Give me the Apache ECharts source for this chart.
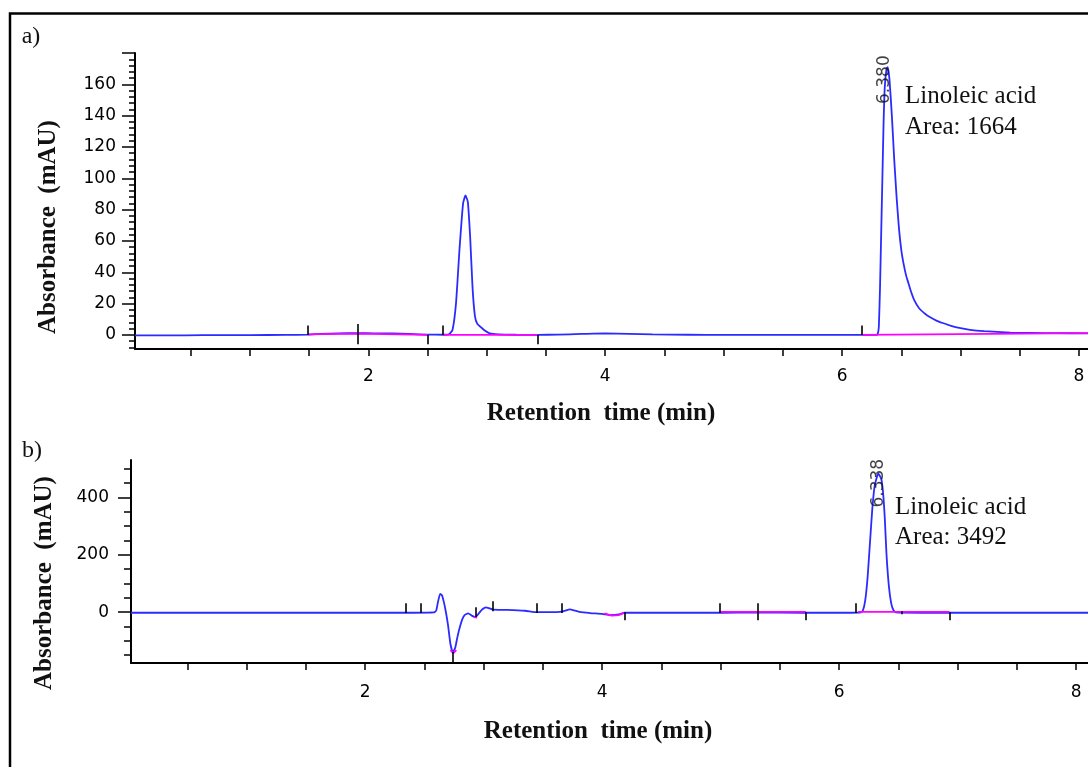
<!DOCTYPE html>
<html>
<head>
<meta charset="utf-8">
<script src="https://cdn.jsdelivr.net/npm/echarts@6/dist/echarts.min.js"></script>
<style>html,body{margin:0;padding:0;background:#fff}#c{width:1088px;height:767px}</style>
</head>
<body>
<div id="c"></div>
<script>
// ---------- Panel a) data : [retention time (min), absorbance (mAU)] ----------
const traceA = [[0.03,-0.3],[0.3,-0.3],[0.6,-0.2],[1.0,-0.1],[1.3,0],[1.49,0.2],[1.6,0.7],[1.75,1.0],[1.9,1.1],[2.05,1.0],[2.2,0.9],[2.35,0.6],[2.5,0.2],[2.63,0.1],[2.68,0.4],[2.71,3],[2.74,20],[2.77,55],[2.80,84],[2.82,89],[2.84,85],[2.86,62],[2.88,30],[2.90,12],[2.92,7],[2.95,5],[2.98,3],[3.02,1.2],[3.10,0.4],[3.25,0.1],[3.43,0],[3.6,0.2],[3.8,0.6],[4.0,1.0],[4.2,0.7],[4.4,0.3],[4.7,0.1],[5.0,0],[5.5,0],[6.0,0],[6.17,0],[6.29,0],[6.30,0.5],[6.31,5],[6.32,30],[6.33,65],[6.34,100],[6.35,135],[6.36,158],[6.375,170],[6.385,171],[6.40,163],[6.42,140],[6.44,112],[6.46,88],[6.48,68],[6.50,54],[6.52,45],[6.54,38],[6.56,33],[6.58,28],[6.61,22],[6.65,17],[6.70,13.5],[6.74,11.4],[6.80,9],[6.85,7.6],[6.92,5.8],[7.0,4.3],[7.08,3.2],[7.2,2.4],[7.42,1.5],[7.6,1.3],[7.8,1.1],[8.08,1.0]];
const baselineA = [
  [[1.49,0.3],[1.91,0.8],[2.50,0]],
  [[2.63,0],[3.43,0]],
  [[6.17,0],[8.08,1.2]]
];
// integration event marks: [time, from, to]
const eventsA = [[1.49,0,6],[1.91,-6,7],[2.50,0,-6],[2.63,0,6],[3.43,0,-6],[6.17,0,6]];
const peakA = {time:6.362, y:163, label:'6.380', name:'Linoleic acid', area:'Area: 1664'};

// ---------- Panel b) data ----------
const traceB = [[0.025,-2],[1.0,-2],[2.0,-2],[2.4,-2],[2.58,-1],[2.60,5],[2.615,35],[2.633,64],[2.65,58],[2.665,35],[2.68,5],[2.70,-45],[2.72,-110],[2.74,-139],[2.76,-125],[2.78,-85],[2.80,-52],[2.82,-25],[2.84,-10],[2.87,-4],[2.90,-12],[2.93,-17],[2.96,-4],[2.99,10],[3.02,17],[3.05,13],[3.08,9],[3.2,8],[3.35,5],[3.45,0],[3.55,0],[3.66,2],[3.73,10],[3.81,1],[3.9,-3],[4.0,-6],[4.07,-10],[4.14,-8],[4.19,-2],[4.5,-2],[5.0,-2],[5.3,-1],[5.7,-2],[6.1,-2],[6.18,-1],[6.20,5],[6.22,40],[6.24,120],[6.26,240],[6.28,360],[6.30,440],[6.33,483],[6.355,465],[6.37,420],[6.385,330],[6.40,200],[6.42,90],[6.44,30],[6.46,6],[6.48,-1],[6.7,-2],[7.0,-2],[8.1,-2]];
const baselineB = [
  [[2.72,-132],[2.745,-143],[2.77,-132]],
  [[2.92,-17],[2.945,-19]],
  [[4.02,-4],[4.08,-12],[4.14,-10],[4.19,-2]],
  [[4.99,1],[5.72,1]],
  [[6.16,1],[6.93,1]]
];
const eventsB = [[2.34,31,-3],[2.47,31,-3],[2.74,-139,-177],[2.93,17,-17],[3.08,38,3],[3.45,31,-3],[3.66,31,-3],[4.19,0,-28],[4.99,31,-3],[5.31,31,-28],[5.72,0,-28],[6.14,31,-3],[6.53,3,-7],[6.93,0,-28]];
const peakB = {time:6.329, y:449, label:'6.338', name:'Linoleic acid', area:'Area: 3492'};

// ---------- axes ----------
const xTicks = [0.5,1,1.5,2,2.5,3,3.5,4,4.5,5,5.5,6,6.5,7,7.5,8];
const xLabels = [2,4,6,8];
const yMajorA = [0,20,40,60,80,100,120,140,160,180];
const yLabelsA = [0,20,40,60,80,100,120,140,160];
const yMinorA = [-8,-4,4,8,12,16,24,28,32,36,44,48,52,56,64,68,72,76,84,88,92,96,104,108,112,116,124,128,132,136,144,148,152,156,164,168,172,176];
const yMajorB = [0,200,400];
const yLabelsB = [0,200,400];
const yMinorB = [-150,-100,-50,50,100,150,250,300,350,450,500];

const BLUE = '#2b2bff', PINK = '#ff00ff', INK = '#000';
const SANS = 'DejaVu Sans', SERIF = 'Liberation Serif';

function xAxis(gi, min, max, margin){
  return {type:'value', gridIndex:gi, min:min, max:max,
    axisLine:{show:true, onZero:false, lineStyle:{color:INK, width:2}},
    axisTick:{show:true, customValues:xTicks, length:7, lineStyle:{color:INK, width:1.5}},
    axisLabel:{customValues:xLabels, margin:margin, color:'#000', fontFamily:SANS, fontSize:17},
    splitLine:{show:false}};
}
function yMajor(gi, min, max, ticks, labels, margin){
  return {type:'value', gridIndex:gi, position:'left', min:min, max:max,
    axisLine:{show:true, onZero:false, lineStyle:{color:INK, width:2}},
    axisTick:{show:true, customValues:ticks, length:13, lineStyle:{color:INK, width:1.5}},
    axisLabel:{customValues:labels, margin:margin, color:'#000', fontFamily:SANS, fontSize:17},
    splitLine:{show:false}};
}
function yMinor(gi, min, max, ticks, len){
  return {type:'value', gridIndex:gi, position:'left', min:min, max:max,
    axisLine:{show:false, onZero:false},
    axisTick:{show:true, customValues:ticks, length:len, lineStyle:{color:INK, width:1.5}},
    axisLabel:{show:false}, splitLine:{show:false}};
}

function panelSeries(xi, yi, trace, baselines, events, peak){
  const s = [];
  s.push({type:'line', xAxisIndex:xi, yAxisIndex:yi, data:trace, showSymbol:false, smooth:0.15,
    lineStyle:{color:BLUE, width:1.8}, z:3,
    markLine:{symbol:'none', silent:true, animation:false, label:{show:false},
      lineStyle:{color:INK, width:1.6, type:'solid'},
      data: events.map(e => [{coord:[e[0], e[1]]}, {coord:[e[0], e[2]]}])}});
  baselines.forEach(seg => s.push({type:'line', xAxisIndex:xi, yAxisIndex:yi, data:seg, showSymbol:false,
    lineStyle:{color:PINK, width:1.8}, z:4}));
  s.push({type:'scatter', xAxisIndex:xi, yAxisIndex:yi, data:[[peak.time, peak.y]], symbolSize:1,
    itemStyle:{color:'rgba(0,0,0,0)'}, z:6, silent:true,
    label:{show:true, formatter:peak.label, rotate:90, position:'inside', color:'#111',
      fontFamily:SANS, fontSize:17}});
  return s;
}

const chart = echarts.init(document.getElementById('c'), null, {renderer:'canvas'});
chart.setOption({
  backgroundColor:'#fff',
  animation:false,
  grid:[
    {left:135, top:53, width:953, height:296},
    {left:131, top:460, width:957, height:203}
  ],
  xAxis:[xAxis(0, 0.03, 8.076, 19), xAxis(1, 0.025, 8.10, 21)],
  yAxis:[
    yMajor(0, -9, 180, yMajorA, yLabelsA, 19),
    yMajor(1, -177, 530, yMajorB, yLabelsB, 22),
    yMinor(0, -9, 180, yMinorA, 6),
    yMinor(1, -177, 530, yMinorB, 7)
  ],
  series: [].concat(
    panelSeries(0, 0, traceA, baselineA, eventsA, peakA),
    panelSeries(1, 1, traceB, baselineB, eventsB, peakB)
  ),
  graphic:[
    {type:'rect', shape:{x:10, y:13.5, width:1200, height:900}, style:{fill:'none', stroke:INK, lineWidth:2.5}, silent:true},
    {type:'text', x:31, y:37, style:{text:'a)', font:'24px "'+SERIF+'"', fill:'#111', textAlign:'center', textVerticalAlign:'middle'}},
    {type:'text', x:32, y:451, style:{text:'b)', font:'24px "'+SERIF+'"', fill:'#111', textAlign:'center', textVerticalAlign:'middle'}},
    {type:'text', x:49, y:227, rotation:Math.PI/2, style:{text:'Absorbance  (mAU)', font:'bold 25px "'+SERIF+'"', fill:'#111', textAlign:'center', textVerticalAlign:'middle'}},
    {type:'text', x:45, y:583, rotation:Math.PI/2, style:{text:'Absorbance  (mAU)', font:'bold 25px "'+SERIF+'"', fill:'#111', textAlign:'center', textVerticalAlign:'middle'}},
    {type:'text', x:601, y:414, style:{text:'Retention  time (min)', font:'bold 25px "'+SERIF+'"', fill:'#111', textAlign:'center', textVerticalAlign:'middle'}},
    {type:'text', x:598, y:732, style:{text:'Retention  time (min)', font:'bold 25px "'+SERIF+'"', fill:'#111', textAlign:'center', textVerticalAlign:'middle'}},
    {type:'text', x:905, y:96, style:{text:peakA.name, font:'25px "'+SERIF+'"', fill:'#111', textAlign:'left', textVerticalAlign:'middle'}},
    {type:'text', x:905, y:127, style:{text:peakA.area, font:'25px "'+SERIF+'"', fill:'#111', textAlign:'left', textVerticalAlign:'middle'}},
    {type:'text', x:895, y:507, style:{text:peakB.name, font:'25px "'+SERIF+'"', fill:'#111', textAlign:'left', textVerticalAlign:'middle'}},
    {type:'text', x:895, y:537, style:{text:peakB.area, font:'25px "'+SERIF+'"', fill:'#111', textAlign:'left', textVerticalAlign:'middle'}}
  ]
});
</script>
</body>
</html>
